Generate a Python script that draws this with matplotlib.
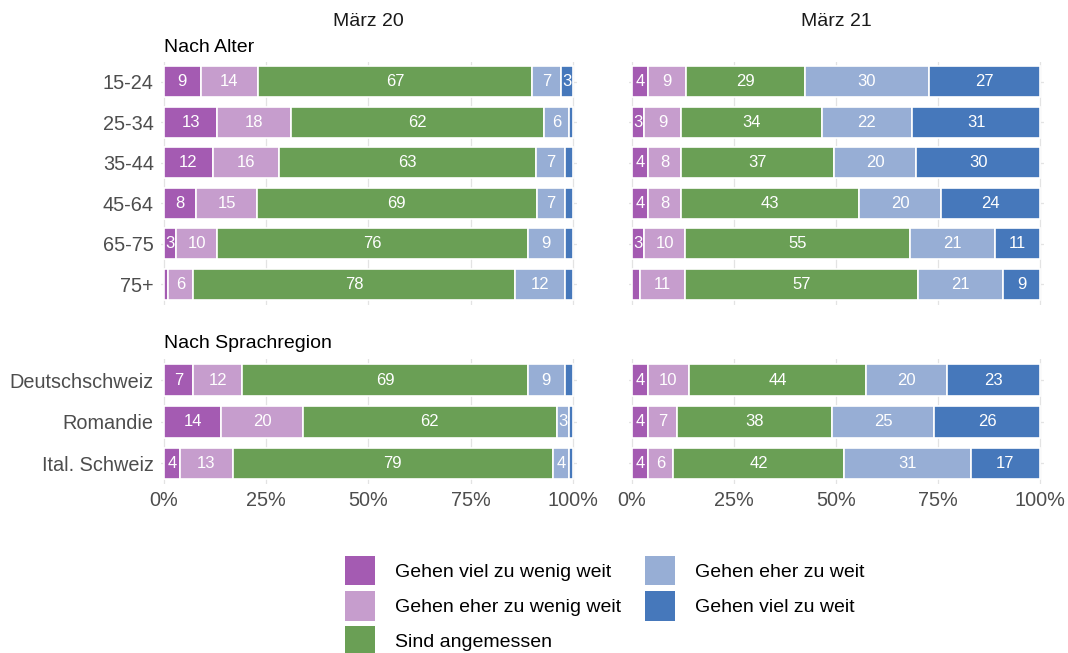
import numpy as np
import matplotlib
matplotlib.use("Agg")
import matplotlib.pyplot as plt
from matplotlib.patches import Patch

plt.rcParams['font.family'] = ['Liberation Sans', 'DejaVu Sans']

# categories
age_groups = ["15-24", "25-34", "35-44", "45-64", "65-75", "75+"]
regions = ["Deutschschweiz", "Romandie", "Ital. Schweiz"]
answers = ["Gehen viel zu wenig weit", "Gehen eher zu wenig weit", "Sind angemessen",
           "Gehen eher zu weit", "Gehen viel zu weit"]
colors = ["#A45BB2", "#C69DCD", "#6A9F55", "#97AED5", "#4678BB"]

# März 20, nach Alter
m20_age_viel_wenig = [9, 13, 12, 8, 3, 1]
m20_age_eher_wenig = [14, 18, 16, 15, 10, 6]
m20_age_angemessen = [67, 62, 63, 69, 76, 78]
m20_age_eher_weit = [7, 6, 7, 7, 9, 12]
m20_age_viel_weit = [3, 1, 2, 2, 2, 2]

# März 21, nach Alter
m21_age_viel_wenig = [4, 3, 4, 4, 3, 2]
m21_age_eher_wenig = [9, 9, 8, 8, 10, 11]
m21_age_angemessen = [29, 34, 37, 43, 55, 57]
m21_age_eher_weit = [30, 22, 20, 20, 21, 21]
m21_age_viel_weit = [27, 31, 30, 24, 11, 9]

# März 20, nach Sprachregion
m20_reg_viel_wenig = [7, 14, 4]
m20_reg_eher_wenig = [12, 20, 13]
m20_reg_angemessen = [69, 62, 79]
m20_reg_eher_weit = [9, 3, 4]
m20_reg_viel_weit = [2, 1, 1]

# März 21, nach Sprachregion
m21_reg_viel_wenig = [4, 4, 4]
m21_reg_eher_wenig = [10, 7, 6]
m21_reg_angemessen = [44, 38, 42]
m21_reg_eher_weit = [20, 25, 31]
m21_reg_viel_weit = [23, 26, 17]

periods = ["März 20", "März 21"]
xticks = [0, 25, 50, 75, 100]
xticklabels = ["0%", "25%", "50%", "75%", "100%"]

fig = plt.figure(figsize=(10.68, 6.53), dpi=100)
W, H = 1068, 653


def px_axes(left, right, top, bottom):
    return fig.add_axes([left / W, 1 - bottom / H, (right - left) / W, (bottom - top) / H])


def draw_panel(ax, cats, series, show_y, show_x):
    data = np.array(series, dtype=float)
    totals = data.sum(axis=0)
    shares = data / totals * 100
    y = np.arange(len(cats))
    left = np.zeros(len(cats))
    for k in range(len(series)):
        ax.barh(y, shares[k], left=left, height=0.76, color=colors[k],
                edgecolor="white", linewidth=1.2, zorder=2)
        for i in range(len(cats)):
            if data[k, i] >= 3:
                ax.text(left[i] + shares[k, i] / 2, y[i], f"{data[k, i]:.0f}",
                        ha="center", va="center", color="white", fontsize=12, zorder=3)
        left += shares[k]
    ax.set_xlim(-0.8, 101)
    ax.set_ylim(len(cats) - 0.5, -0.5)
    ax.set_yticks(y)
    ax.set_xticks(xticks)
    ax.grid(True, color="#e3e3e3", linewidth=0.9, zorder=0)
    ax.set_axisbelow(True)
    for s in ax.spines.values():
        s.set_visible(False)
    ax.tick_params(length=0, labelsize=14.3, labelcolor="#4d4d4d", pad=5)
    if show_y:
        ax.set_yticklabels(cats)
    else:
        ax.set_yticklabels([])
    if show_x:
        ax.set_xticklabels(xticklabels)
    else:
        ax.set_xticklabels([])


ax_tl = px_axes(160.7, 577.1, 61.5, 304.5)
ax_tr = px_axes(628.7, 1044.2, 61.5, 304.5)
ax_bl = px_axes(160.7, 577.1, 359.3, 484.3)
ax_br = px_axes(628.7, 1044.2, 359.3, 484.3)

draw_panel(ax_tl, age_groups, [m20_age_viel_wenig, m20_age_eher_wenig, m20_age_angemessen,
                               m20_age_eher_weit, m20_age_viel_weit], True, False)
draw_panel(ax_tr, age_groups, [m21_age_viel_wenig, m21_age_eher_wenig, m21_age_angemessen,
                               m21_age_eher_weit, m21_age_viel_weit], False, False)
draw_panel(ax_bl, regions, [m20_reg_viel_wenig, m20_reg_eher_wenig, m20_reg_angemessen,
                            m20_reg_eher_weit, m20_reg_viel_weit], True, True)
draw_panel(ax_br, regions, [m21_reg_viel_wenig, m21_reg_eher_wenig, m21_reg_angemessen,
                            m21_reg_eher_weit, m21_reg_viel_weit], False, True)

# column headers and section titles
fig.text(368.5 / W, 1 - 22 / H, periods[0], ha="center", va="center", fontsize=14, color="#1a1a1a")
fig.text(836 / W, 1 - 22 / H, periods[1], ha="center", va="center", fontsize=14, color="#1a1a1a")
fig.text(164 / W, 1 - 47 / H, "Nach Alter", ha="left", va="center", fontsize=14, color="black")
fig.text(164 / W, 1 - 343 / H, "Nach Sprachregion", ha="left", va="center", fontsize=14, color="black")

handles = [Patch(facecolor=c, edgecolor="none") for c in colors]
fig.legend(handles, answers, loc="upper left", bbox_to_anchor=(345 / W, 1 - 556 / H),
           ncol=2, frameon=False, fontsize=14, handlelength=1.55, handleheight=1.95,
           handletextpad=1.0, labelspacing=0.3, columnspacing=1.25,
           borderpad=0, borderaxespad=0)

fig.savefig("out.png", dpi=100)
